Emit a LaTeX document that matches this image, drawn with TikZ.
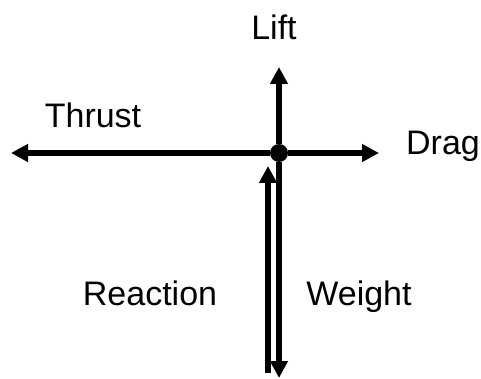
\documentclass[tikz,border=0pt]{standalone}
\usepackage{fontspec}
\setmainfont{Liberation Sans}
\usetikzlibrary{arrows.meta,positioning}

\begin{document}
\begin{tikzpicture}[x=1pt,y=-1pt,
    force/.style={line width=6pt, -{Triangle[length=17pt,width=17pt]}},
    dot/.style={circle, fill=black, inner sep=0pt, minimum size=18pt},
    lbl/.style={anchor=base, font=\fontsize{34}{40}\selectfont, inner sep=0pt},
]
\useasboundingbox (0,0) rectangle (481,379);

% point of action
\node[dot] (o) at (279,153) {};

\coordinate (thrustend) at (11,153);
\coordinate (dragend)   at (379,153);
\coordinate (liftend)   at (279,67);
\coordinate (weightend) at (279,378);
\coordinate (reactbot)  at (268,373);
\coordinate (reacttop)  at (268,166);

\draw[force] (o) -- (thrustend);
\draw[force] (o) -- (dragend);
\draw[force] (o) -- (liftend);
\draw[force] (o) -- (weightend);
\draw[force] (reactbot) -- (reacttop);

% labels
\node[lbl] (lift)     at (274,40)  {Lift};
\node[lbl] (thrust)   at (93,128)  {Thrust};
\node[lbl] (drag)     at (443,155) {Drag};
\node[lbl] (reaction) at (150,305) {Reaction};
\node[lbl] (weight)   at (359,305) {Weight};

\end{tikzpicture}
\end{document}
